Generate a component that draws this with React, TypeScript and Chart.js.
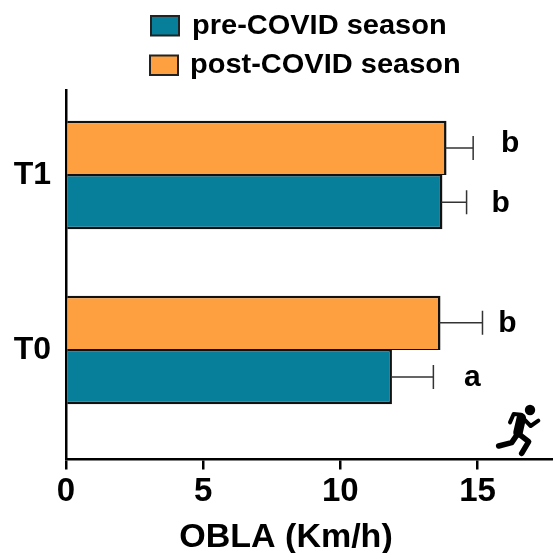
import React, { useEffect, useRef } from "react";
import { Chart, registerables } from "chart.js";

Chart.register(...registerables);

const categories = ["T0", "T1"];
const preLabel = "pre-COVID season";
const postLabel = "post-COVID season";
const preValues = [11.88, 13.72];
const postValues = [13.65, 13.87];
const preErrorTops = [13.39, 14.6];
const postErrorTops = [15.18, 14.84];
const preLetters = ["a", "b"];
const postLetters = ["b", "b"];
const xTicks = [0, 5, 10, 15];
const axisTitle = "OBLA (Km/h)";

const TEAL = "#087F9A";
const ORANGE = "#FFA040";
const INK = "#111111";
const FONT = "'Liberation Sans', Arial, sans-serif";

const preLetterShift = [[39, 1], [34, 2]];
const postLetterShift = [[25, 1], [37, -4]];

const overlay = {
  id: "overlay",
  afterDatasetsDraw(chart: any) {
    const { ctx, scales } = chart;
    const x = scales.x;
    const bars = [
      { meta: chart.getDatasetMeta(0), tops: postErrorTops, letters: postLetters, shift: postLetterShift },
      { meta: chart.getDatasetMeta(1), tops: preErrorTops, letters: preLetters, shift: preLetterShift },
    ];
    ctx.save();
    for (const b of bars) {
      b.meta.data.forEach((el: any, i: number) => {
        const end = x.getPixelForValue(b.tops[i]);
        ctx.strokeStyle = "#333333";
        ctx.lineWidth = 1.5;
        ctx.beginPath();
        ctx.moveTo(el.x - 1, el.y);
        ctx.lineTo(end, el.y);
        ctx.moveTo(end, el.y - 12);
        ctx.lineTo(end, el.y + 12);
        ctx.stroke();
        ctx.fillStyle = "#000";
        ctx.font = `bold 30px ${FONT}`;
        ctx.textAlign = "center";
        ctx.textBaseline = "middle";
        ctx.fillText(b.letters[i], end + b.shift[i][0], el.y + b.shift[i][1]);
      });
    }

    // legend
    const rows = [
      { label: preLabel, color: TEAL, bx: 151, by: 16, tx: 192, base: 34.3 },
      { label: postLabel, color: ORANGE, bx: 150, by: 55.5, tx: 190, base: 72.7 },
    ];
    for (const r of rows) {
      ctx.fillStyle = r.color;
      ctx.strokeStyle = "#222";
      ctx.lineWidth = 2;
      ctx.fillRect(r.bx, r.by, 28, 19.5);
      ctx.strokeRect(r.bx, r.by, 28, 19.5);
      ctx.fillStyle = "#000";
      ctx.font = `bold 27px ${FONT}`;
      ctx.textAlign = "left";
      ctx.textBaseline = "alphabetic";
      ctx.save();
      ctx.translate(r.tx, r.base);
      ctx.scale(1.074, 1);
      ctx.fillText(r.label, 0, 0);
      ctx.restore();
    }

    // axis title
    ctx.font = `bold 34px ${FONT}`;
    ctx.textAlign = "center";
    ctx.textBaseline = "alphabetic";
    ctx.fillText(axisTitle, 286, 547);

    // runner icon
    const px = (v: number) => 480 + v / 3;
    const py = (v: number) => 390 + v / 3;
    ctx.strokeStyle = "#000";
    ctx.fillStyle = "#000";
    ctx.lineCap = "round";
    ctx.lineJoin = "round";
    ctx.beginPath();
    ctx.arc(px(150), py(60), 5.2, 0, Math.PI * 2);
    ctx.fill();
    const strokes: [number, [number, number][]][] = [
      [9.5, [[124, 84], [114, 128]]],
      [4, [[124, 74], [101, 72], [90, 97]]],
      [4, [[130, 85], [152, 108], [175, 92]]],
      [5.5, [[114, 130], [146, 155], [125, 190]]],
      [5.5, [[114, 130], [95, 158], [56, 168]]],
    ];
    for (const [w, pts] of strokes) {
      ctx.lineWidth = w;
      ctx.beginPath();
      pts.forEach(([a, b], i) => (i ? ctx.lineTo(px(a), py(b)) : ctx.moveTo(px(a), py(b))));
      ctx.stroke();
    }
    ctx.restore();
  },
};

export default function App() {
  const ref = useRef<HTMLCanvasElement>(null);
  useEffect(() => {
    const chart = new Chart(ref.current as HTMLCanvasElement, {
      type: "bar",
      data: {
        datasets: [
          {
            label: postLabel,
            data: postValues.map((v, i) => ({ x: v, y: i })),
            backgroundColor: ORANGE,
            borderColor: INK,
            borderWidth: { top: 2.5, right: 2.5, bottom: 1, left: 0 },
          },
          {
            label: preLabel,
            data: preValues.map((v, i) => ({ x: v, y: i })),
            backgroundColor: TEAL,
            borderColor: INK,
            borderWidth: { top: 1.5, right: 2.5, bottom: 2.5, left: 0 },
          },
        ],
      } as any,
      options: {
        indexAxis: "y",
        responsive: false,
        animation: false,
        categoryPercentage: 0.62,
        barPercentage: 1,
        layout: { padding: { top: 90, left: 0, right: 0, bottom: 0 } },
        plugins: { legend: { display: false }, tooltip: { enabled: false } },
        scales: {
          x: {
            type: "linear",
            min: 0,
            max: 17.75,
            grid: { display: true, drawOnChartArea: false, color: "#000", lineWidth: 2.5, tickLength: 10 },
            border: { color: "#000", width: 2.5 },
            ticks: {
              stepSize: 5,
              includeBounds: false,
              padding: 3,
              maxRotation: 0,
              color: "#000",
              font: { family: FONT, size: 33, weight: "bold" },
              callback: (v: any) => (xTicks.includes(v) ? String(v) : ""),
            },
            afterFit: (s: any) => {
              s.height = 93.5;
            },
          },
          y: {
            type: "linear",
            offset: false,
            min: -0.626,
            max: 1.486,
            grid: { display: false, offset: false },
            border: { color: "#000", width: 2.5 },
            ticks: {
              stepSize: 1,
              includeBounds: false,
              padding: 7,
              color: "#000",
              font: { family: FONT, size: 32, weight: "bold" },
              callback: (v: any) => categories[v] ?? "",
            },
            afterFit: (s: any) => {
              s.width = 66;
            },
          },
        },
      } as any,
      plugins: [overlay],
    });
    return () => chart.destroy();
  }, []);
  return (
    <div style={{ position: "absolute", left: 0, top: 0, width: 553, height: 553 }}>
      <canvas ref={ref} width={553} height={553} style={{ display: "block" }} />
    </div>
  );
}
